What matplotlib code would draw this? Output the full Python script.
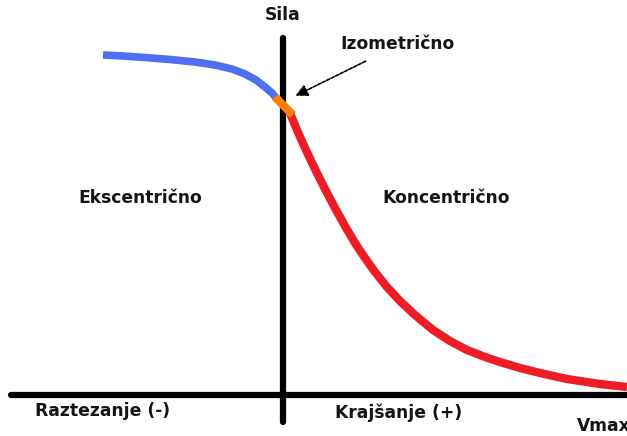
import numpy as np
import matplotlib
matplotlib.use("Agg")
import matplotlib.pyplot as plt

# force-velocity curve (velocity, force) in pixel-ish units
ecc_v = [-180, -160, -138, -113, -88, -68, -51, -38, -27, -18, -11, -6]
ecc_f = [339.5, 338.5, 337.0, 335.0, 332.5, 329.5, 325.5, 320.5, 314.5, 307.5, 301.5, 295.5]
iso_v = [-8, 1, 10]
iso_f = [297.5, 288.5, 279.5]
con_v = [7, 14, 22, 32, 42, 52, 62, 72, 82, 92, 104, 117, 132, 150, 167, 184, 202,
         217, 237, 257, 284, 317, 344]
con_f = [281.5, 264.5, 246.5, 225.5, 205.5, 186.5, 168.5, 151.5, 136.5, 122.5, 107.5,
         93.5, 79.5, 64.5, 53.5, 44.5, 37.5, 32.5, 26.5, 21.5, 15.5, 10.5, 7.5]

x_min, x_max = -283, 344
y_min, y_max = -41.5, 394.5

fig = plt.figure(figsize=(6.27, 4.36), dpi=100)
ax = fig.add_axes([0, 0, 1, 1])
ax.set_xlim(x_min, x_max)
ax.set_ylim(y_min, y_max)

# axes as spines through the origin
for side in ["left", "bottom"]:
    ax.spines[side].set_position(("data", 0))
    ax.spines[side].set_linewidth(4.5)
    ax.spines[side].set_capstyle("round")
for side in ["right", "top"]:
    ax.spines[side].set_visible(False)
ax.spines["left"].set_bounds(-27.5, 356.5)
ax.spines["bottom"].set_bounds(-272, x_max + 10)
ax.set_xticks([])
ax.set_yticks([])

ax.plot(ecc_v, ecc_f, color="#4d6ff0", lw=5.5, solid_capstyle="butt",
        solid_joinstyle="round", zorder=3)
ax.plot(con_v, con_f, color="#ee1c24", lw=6, solid_capstyle="butt",
        solid_joinstyle="round", zorder=3)
ax.plot(iso_v, iso_f, color="#ff7f00", lw=6, solid_capstyle="butt", zorder=4)

font = dict(family="DejaVu Sans", weight="bold", size=12.3, color="#151515")
ax.text(0, 379.5, "Sila", ha="center", va="center", **font)
ax.text(114, 350.5, "Izometrično", ha="center", va="center", **font)
ax.text(-143, 196.5, "Ekscentrično", ha="center", va="center", **font)
ax.text(163, 196.5, "Koncentrično", ha="center", va="center", **font)
ax.text(-180, -16.5, "Raztezanje (-)", ha="center", va="center", **font)
ax.text(116, -18.5, "Krajšanje (+)", ha="center", va="center", **font)
ax.text(294, -31.5, "Vmax", ha="left", va="center", **font)

ax.annotate("", xy=(10, 297.5), xytext=(85, 334.5),
            arrowprops=dict(arrowstyle="-|>", color="black", lw=1.2,
                            linestyle=(0, (2, 1)), mutation_scale=18))

fig.savefig("out.png", dpi=100)
